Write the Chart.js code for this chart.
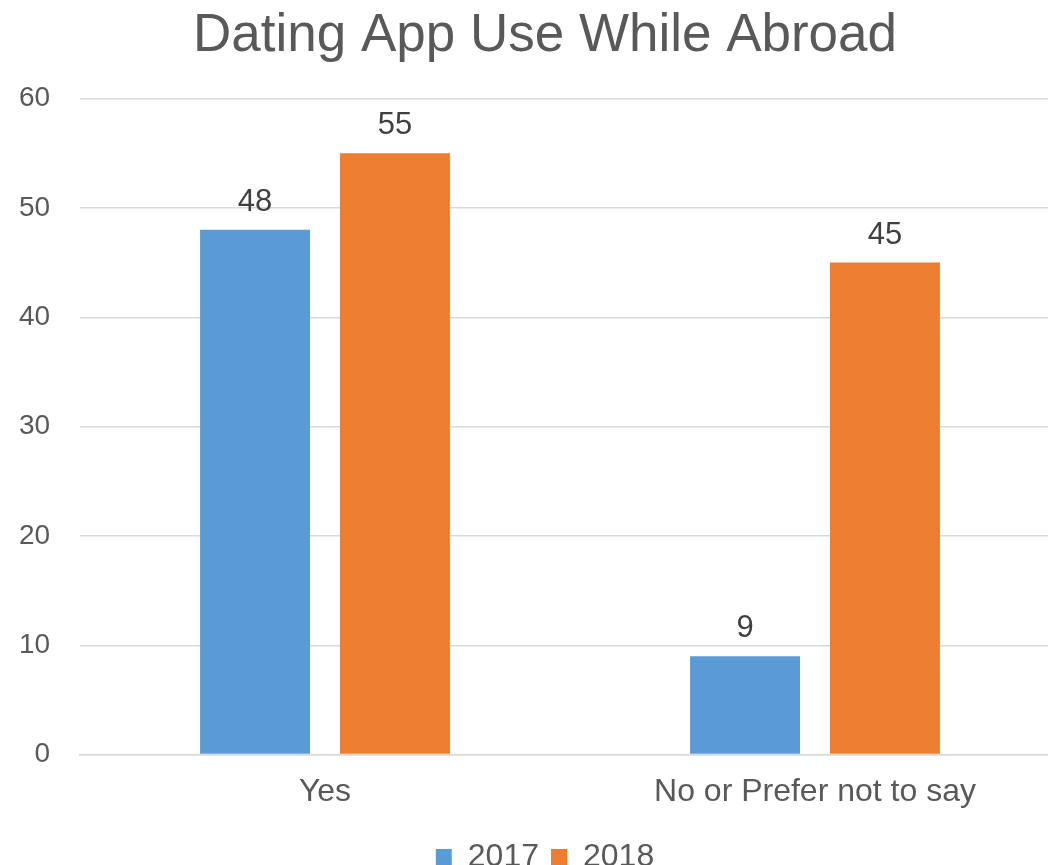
<!DOCTYPE html>
<html>
<head>
<meta charset="utf-8">
<script src="https://cdn.jsdelivr.net/npm/chart.js@4"></script>
<style>
  html, body { margin: 0; padding: 0; background: #fff; overflow: hidden; }
  #wrap { width: 1090px; height: 865px; }
</style>
</head>
<body>
<div id="wrap"><canvas id="chart" width="1090" height="865"></canvas></div>
<script>
const categories = ['Yes', 'No or Prefer not to say'];
const seriesNames = ['2017', '2018'];
const values2017 = [48, 9];
const values2018 = [55, 45];
const yTicks = [0, 10, 20, 30, 40, 50, 60];

const textColor = '#595959';
const fontFamily = '"Liberation Sans", Arial, sans-serif';

// simple inline data label plugin (no datalabels lib available)
const barLabels = {
  id: 'barLabels',
  afterDatasetsDraw(chart) {
    const ctx = chart.ctx;
    ctx.save();
    ctx.font = '31px ' + fontFamily;
    ctx.fillStyle = '#404040';
    ctx.textAlign = 'center';
    ctx.textBaseline = 'alphabetic';
    chart.data.datasets.forEach((ds, i) => {
      chart.getDatasetMeta(i).data.forEach((bar, j) => {
        ctx.fillText(String(ds.data[j]), bar.x, bar.y - 19);
      });
    });
    ctx.restore();
  }
};

new Chart(document.getElementById('chart'), {
  type: 'bar',
  data: {
    labels: categories,
    datasets: [
      { label: seriesNames[0], data: values2017, backgroundColor: '#5B9BD5' },
      { label: seriesNames[1], data: values2018, backgroundColor: '#ED7D31' }
    ]
  },
  options: {
    responsive: false,
    animation: false,
    categoryPercentage: 0.571,
    barPercentage: 0.786,
    layout: { padding: { left: 30, right: 30, top: 0, bottom: -18 } },
    plugins: {
      title: {
        display: true,
        text: 'Dating App Use While Abroad',
        color: textColor,
        font: { family: fontFamily, size: 53, weight: 'normal' },
        padding: { top: 5, bottom: 30 }
      },
      legend: {
        position: 'bottom',
        labels: {
          color: textColor,
          font: { family: fontFamily, size: 32 },
          boxWidth: 16,
          boxHeight: 16,
          padding: 12
        }
      },
      tooltip: { enabled: false }
    },
    scales: {
      x: {
        grid: { display: false, drawTicks: false },
        border: { color: '#D9D9D9', width: 1.5 },
        ticks: {
          color: textColor,
          font: { family: fontFamily, size: 32 },
          padding: 18
        }
      },
      y: {
        min: 0,
        max: 60,
        afterBuildTicks: (s) => { s.ticks = yTicks.map((v) => ({ value: v })); },
        afterFit: (s) => { s.width = 50; },
        border: { display: false },
        grid: { color: '#D9D9D9', lineWidth: 1.5, drawTicks: false },
        ticks: {
          color: textColor,
          font: { family: fontFamily, size: 28 },
          // mirrored + far align keeps labels right-aligned at x=50 without the scale clip
          mirror: true,
          crossAlign: 'far',
          padding: -61
        }
      }
    }
  },
  plugins: [barLabels]
});
</script>
</body>
</html>
